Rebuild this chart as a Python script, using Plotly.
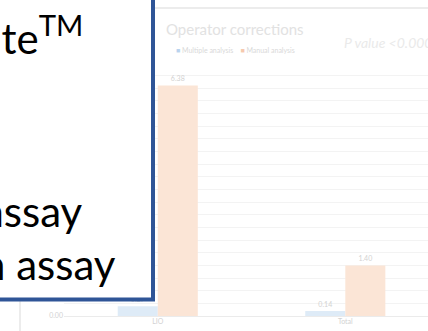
import plotly.graph_objects as go

# Data
categories = ["LIO", "Total"]
multiple_analysis = [0.27, 0.14]
manual_analysis = [6.38, 1.40]
series_names = ["Multiple analysis", "Manual analysis"]
chart_title = "Operator corrections"
p_value_text = "<i>P value <0.0001</i>"
callout_lines = ["ate<sup>TM</sup>", "assay", "n assay"]
y_tick_values = [0, 1.4, 2.8, 4.2, 5.6, 7.0]

W, H = 428, 331
ML, MR, MT, MB = 64, 0, 63, 15
PW, PH = W - ML - MR, H - MT - MB


def px(x):
    return (x - ML) / PW


def py(y):
    return (H - MB - y) / PH


BLUE = "#DEEBF7"
ORANGE = "#FBE5D6"
FAINT = "#D2D2D2"

fig = go.Figure()
fig.add_bar(x=categories, y=multiple_analysis, name=series_names[0],
            marker=dict(color=BLUE, line=dict(width=0)),
            texttemplate="%{y:.2f}", textposition="outside",
            textfont=dict(size=7, color=FAINT, family="Lato"), cliponaxis=False)
fig.add_bar(x=categories, y=manual_analysis, name=series_names[1],
            marker=dict(color=ORANGE, line=dict(width=0)),
            texttemplate="%{y:.2f}", textposition="outside",
            textfont=dict(size=7, color=FAINT, family="Lato"), cliponaxis=False)

shapes = [
    # card outline behind the chart
    dict(type="rect", xref="paper", yref="paper", layer="below",
         x0=px(20), x1=px(460), y0=py(8), y1=py(360),
         line=dict(color="#E6E6E6", width=1.5), fillcolor="white"),
    # callout box drawn over the chart
    dict(type="rect", xref="paper", yref="paper", layer="above",
         x0=px(-40), x1=px(153), y0=py(-40), y1=py(299.5),
         line=dict(color="#2F5597", width=4), fillcolor="white"),
]

annotations = [
    dict(text=chart_title, x=px(164), y=py(29), xref="paper", yref="paper",
         xanchor="left", yanchor="middle", showarrow=False,
         font=dict(family="Lato", size=15, color="#E2E2E2")),
    dict(text=p_value_text, x=px(342), y=py(42), xref="paper", yref="paper",
         xanchor="left", yanchor="middle", showarrow=False,
         font=dict(family="Lato", size=14, color="#EAEAEA")),
    dict(text=f"<span style='color:#B9D3EE'>■</span> {series_names[0]}    "
              f"<span style='color:#F6C9AE'>■</span> {series_names[1]}",
         x=px(174), y=py(50), xref="paper", yref="paper",
         xanchor="left", yanchor="middle", showarrow=False,
         font=dict(family="Lato", size=7, color="#D9D9D9")),
]

# callout text, right-aligned so the start of each line runs off the left edge
callout_pos = [(85, 35), (85, 211), (118, 264)]
for text, (xr, yc) in zip(callout_lines, callout_pos):
    annotations.append(dict(text=text, x=px(xr), y=py(yc), xref="paper", yref="paper",
                            xanchor="right", yanchor="middle", showarrow=False,
                            font=dict(family="Lato", size=42, color="black")))

fig.update_layout(
    width=W, height=H,
    margin=dict(l=ML, r=MR, t=MT, b=MB, pad=0),
    paper_bgcolor="white", plot_bgcolor="white",
    barmode="group", bargap=0.573, bargroupgap=0,
    showlegend=False,
    shapes=shapes, annotations=annotations,
    xaxis=dict(type="category", range=[-0.5, 1.441], showgrid=False,
               showline=False, ticks="", zeroline=False,
               tickfont=dict(family="Lato", size=7, color=FAINT)),
    yaxis=dict(range=[0, 7], tickmode="array", tickvals=y_tick_values,
               tickformat=".2f", showgrid=True,
               gridcolor="#F3F3F3", gridwidth=1,
               minor=dict(tickmode="linear", tick0=0, dtick=0.35, showgrid=True,
                          gridcolor="#F3F3F3", gridwidth=1),
               zeroline=True, zerolinecolor="#EBEBEB", zerolinewidth=1,
               showline=False, ticks="",
               tickfont=dict(family="Lato", size=7, color=FAINT)),
)

fig.write_html("out.html")
